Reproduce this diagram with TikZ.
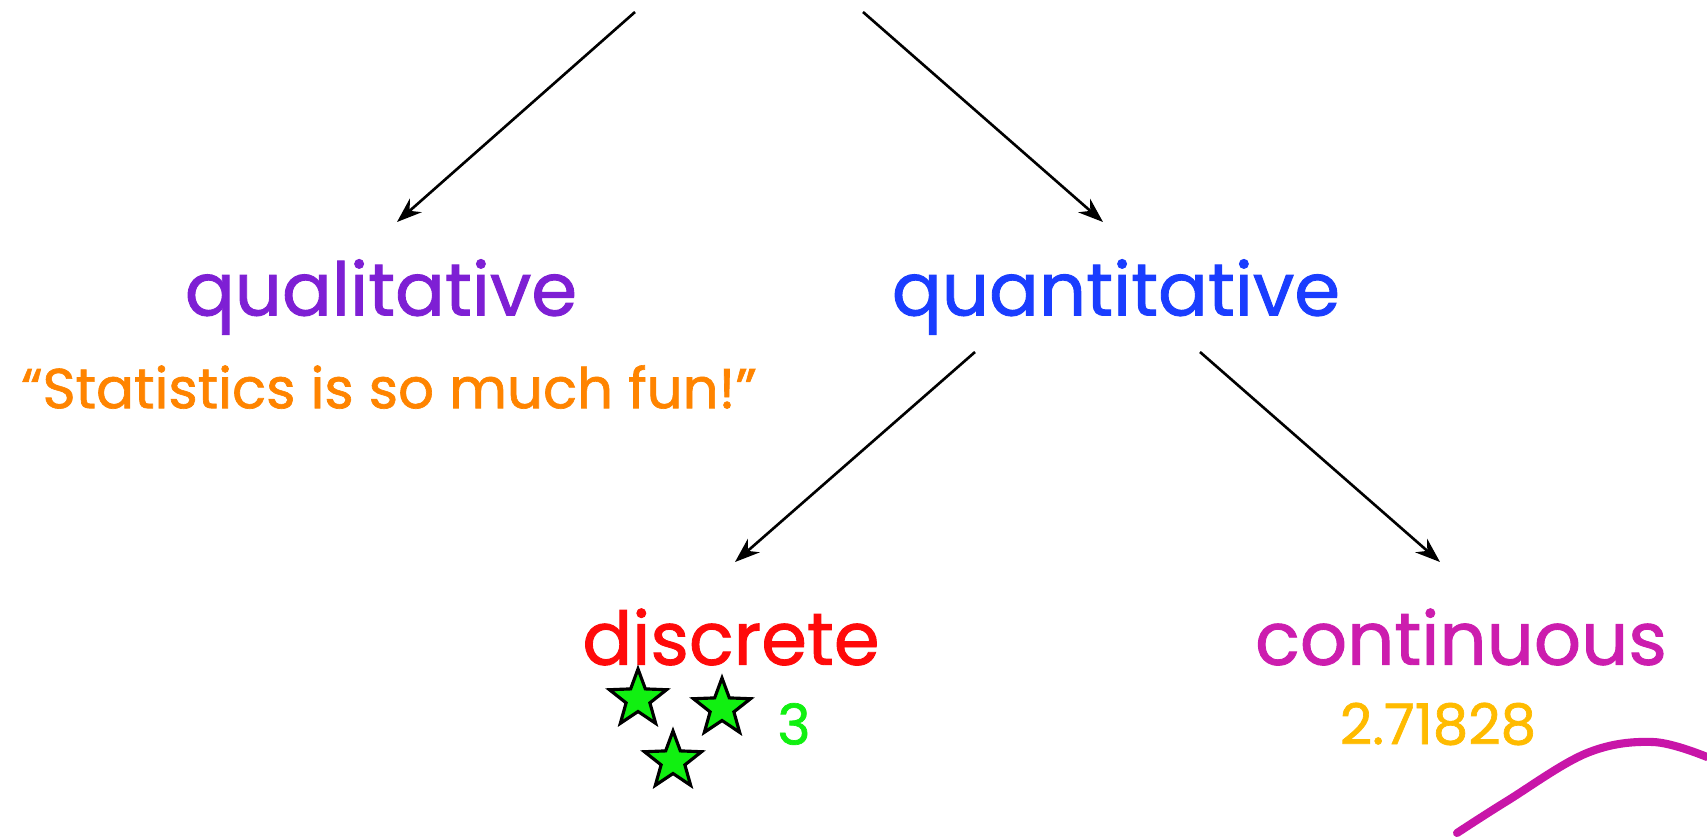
\documentclass[tikz,border=0pt]{standalone}
\usepackage{fontspec}
\setmainfont{Poppins}[FakeBold=1.2]
\usetikzlibrary{arrows.meta,shapes.geometric}
\definecolor{qualpurple}{HTML}{7E1FD4}
\definecolor{quantblue}{HTML}{1A3DFF}
\definecolor{quoteorange}{HTML}{FF8400}
\definecolor{discred}{HTML}{FF0A0A}
\definecolor{contmagenta}{HTML}{CC1DAE}
\definecolor{eamber}{HTML}{FFBB00}
\definecolor{countgreen}{HTML}{11F011}
\definecolor{strokemagenta}{HTML}{C815A8}

\begin{document}
\begin{tikzpicture}[x=0.1mm,y=-0.1mm,
  term/.style={font=\fontsize{21}{25}\selectfont,inner sep=0pt},
  example/.style={font=\fontsize{16}{19}\selectfont,inner sep=0pt},
  arr/.style={-{Stealth[length=2.5mm,width=1.8mm]},line width=0.75pt},
  starmark/.style={star,star points=5,star point ratio=2.4,minimum size=6mm,inner sep=0pt,fill=countgreen,draw=black,line width=0.9pt}
]
\useasboundingbox (0,0) rectangle (1707,839);

% Terms
\node[term,text=qualpurple] (qual) at (381,297) {qualitative};
\node[term,text=quantblue] (quant) at (1116,297) {quantitative};
\node[term,text=discred] (disc) at (731,637) {discrete};
\node[term,text=contmagenta] (cont) at (1461,637) {continuous};

% Examples
\node[example,text=quoteorange] (quote) at (389,387) {“Statistics is so much fun!”};
\node[example,text=eamber] (euler) at (1438,724) {2.71828};
\node[example,text=countgreen] (three) at (794,724) {3};
\node[starmark] (star1) at (638,699) {};
\node[starmark] (star2) at (722,708) {};
\node[starmark] (star3) at (673,761) {};

% Arrow ends
\coordinate (rootl) at (635,12);
\coordinate (rootr) at (863,12);
\coordinate (qualtip) at (397,222);
\coordinate (quanttip) at (1103,222);
\coordinate (quantl) at (975,352);
\coordinate (quantr) at (1200,352);
\coordinate (disctip) at (735,562);
\coordinate (conttip) at (1440,562);

% Arrows
\draw[arr] (rootl) -- (qualtip);
\draw[arr] (rootr) -- (quanttip);
\draw[arr] (quantl) -- (disctip);
\draw[arr] (quantr) -- (conttip);

% Stroke
\draw[strokemagenta,line width=2.3pt,line cap=round] plot[smooth,tension=0.6] coordinates {(1457,833) (1507,801) (1587,753) (1653,742) (1707,757)};

\end{tikzpicture}
\end{document}
